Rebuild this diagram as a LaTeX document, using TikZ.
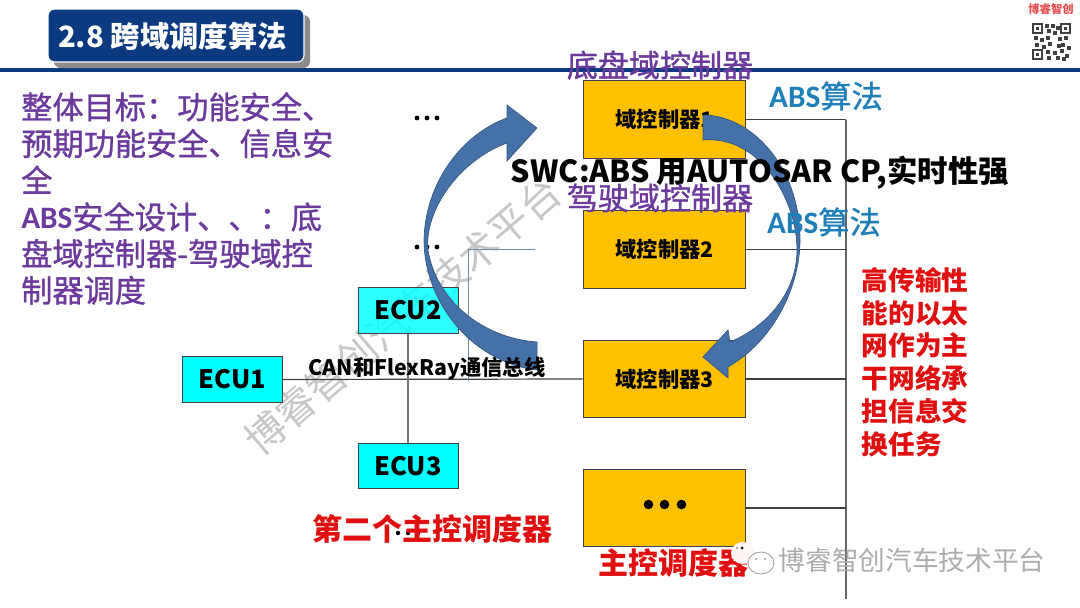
\documentclass[tikz,border=0pt]{standalone}
\usepackage{fontspec}
\setmainfont{Noto Sans CJK SC}
\newfontfamily\medf[FakeBold=1]{Noto Sans CJK SC}
\newfontfamily\latb{Carlito}
\definecolor{navy}{HTML}{0B3A80}
\definecolor{gold}{HTML}{FFC000}
\definecolor{cyanbox}{HTML}{00FFFF}
\definecolor{purp}{HTML}{6B3A9C}
\definecolor{absblue}{HTML}{1F7FB8}
\definecolor{redtxt}{HTML}{E01010}
\definecolor{arrowblue}{HTML}{4472A8}
\definecolor{linegray}{HTML}{404040}
\definecolor{thinblue}{HTML}{6F8CA8}
\newcommand{\fsz}[1]{\fontsize{#1}{#1}\selectfont}
\newcommand{\absword}{{\latb\bfseries ABS}}
\tikzset{
  ctrl/.style={draw=linegray,line width=0.9pt,fill=gold,minimum width=122pt,minimum height=58pt,inner sep=0pt,font=\fsz{16}\bfseries},
  ecubox/.style={draw=linegray,line width=0.7pt,fill=cyanbox,minimum width=75pt,minimum height=34pt,inner sep=0pt,font=\fsz{19}\bfseries},
  wire/.style={draw=linegray,line width=0.9pt},
  purplelab/.style={text=purp,font=\fsz{23.3}\medf,inner sep=0pt},
  abslab/.style={text=absblue,font=\fsz{23.4}\medf,inner sep=0pt},
  redlab/.style={text=redtxt,font=\fsz{22.5}\bfseries,inner sep=0pt},
  wm/.style={text=black!22,inner sep=0pt},
  bigarrow/.style={fill=arrowblue,draw=arrowblue!75!black,line width=0.5pt}
}
\begin{document}
\begin{tikzpicture}[x=0.75pt,y=-0.75pt]
\useasboundingbox (0,0) rectangle (1080,607);
\fill[white] (0,0) rectangle (1080,607);
% rule
\fill[navy] (0,68) rectangle (1080,71.5);
% title
\fill[black!45,rounded corners=5pt] (54,15) rectangle (310,68);
\draw[fill=navy,draw=white,line width=0.8pt,rounded corners=5pt] (48,9) rectangle (304,62);
\node[text=white,font=\fsz{22}\bfseries,inner sep=0pt] (title) at (172.5,36) {2.8 跨域调度算法};
% logo
\node[text=redtxt!75!white,font=\fsz{8.5}\bfseries,inner sep=0pt] (logo) at (1051,9) {博睿智创};
\fill[black!75] (1032,23) rectangle (1043,34);
\fill[white] (1034,25) rectangle (1041,32);
\fill[black!75] (1036,27) rectangle (1039,30);
\fill[black!75] (1060,23) rectangle (1071,34);
\fill[white] (1062,25) rectangle (1069,32);
\fill[black!75] (1064,27) rectangle (1067,30);
\fill[black!75] (1032,49) rectangle (1043,60);
\fill[white] (1034,51) rectangle (1041,58);
\fill[black!75] (1036,53) rectangle (1039,56);
\foreach \x/\y in {1045/24,1051/24,1056/26,1047/29,1053/31,1034/36,1040/38,1046/36,1058/37,1064/36,1035/43,1042/45,1061/43,1067/46,1046/50,1053/51,1060/49,1065/54,1047/56,1056/56,1062/57,1048/42,1057/44}
  \fill[black!75] (\x,\y) rectangle +(3.5,3.5);
% watermark
\node[wm,rotate=40.5,font=\fsz{30}] (wm1) at (402.5,316) {博睿智创汽车技术平台};
% wires
\coordinate (busTop) at (846,120);
\coordinate (busBot) at (846,599);
\draw[wire,line width=1.1pt,draw=black!60] (busTop) -- (busBot);
\node[ctrl] (d1) at (664.5,119.5) {域控制器1};
\node[ctrl] (d2) at (664.5,249.5) {域控制器2};
\node[ctrl] (d3) at (664.5,379) {域控制器3};
\node[ctrl] (d4) at (664.5,508) {};
\fill (648.5,504.5) circle (4.8) (664.5,504.5) circle (4.8) (681.5,504.5) circle (4.8);
\draw[wire] (d1.east) -- (d1.east -| busTop);
\draw[wire] (d2.east) -- (d2.east -| busTop);
\draw[wire] (d3.east) -- (d3.east -| busTop);
\draw[wire] (d4.east) -- (d4.east -| busTop);
\node[ecubox] (e1) at (232.5,379.5) {ECU1};
\node[ecubox,fill opacity=0.82,text opacity=1] (e2) at (408,310.5) {ECU2};
\node[ecubox] (e3) at (408,466) {ECU3};
\draw[wire] (e1.east) -- (d3.west);
\draw[wire,draw=black!55] (e2.south) -- (e3.north);
\coordinate (tA) at (535,249);
\coordinate (tB) at (468,249);
\coordinate (tC) at (468,381);
\draw[draw=thinblue,line width=0.7pt] (tA) -- (tB) -- (tC);
% dots
\foreach \x in {417,427,437}{\fill (\x,118) circle (2.4); \fill (\x,247) circle (2.4);}
\foreach \x in {398,408,418}{\fill (\x,533) circle (2.2);}
% left arrow
\path[bigarrow] (507,118) .. controls (460,135) and (425,185) .. (424,240)
  .. controls (424,300) and (470,362) .. (537,370) -- (537,342)
  .. controls (482,338) and (436,300) .. (428,250)
  .. controls (424,210) and (460,160) .. (507,143) -- (507,161) -- (537,128) -- (507,105) -- cycle;
% right arrow
\path[bigarrow] (703,115) .. controls (750,115) and (800,165) .. (800,240)
  .. controls (800,285) and (775,340) .. (728,367) -- (728,378) -- (703,357) -- (728,330) -- (730,342)
  .. controls (770,325) and (797,290) .. (797,250)
  .. controls (797,200) and (760,135) .. (703,140) -- cycle;
% labels
\node[font=\fsz{22.8}\bfseries,inner sep=0pt] (swc) at (760,173) {SWC:ABS 用AUTOSAR CP,实时性强};
\node[purplelab] (lab1) at (660,65) {底盘域控制器};
\node[purplelab] (lab2) at (660,198) {驾驶域控制器};
\node[abslab] (abs1) at (826,96) {\absword 算法};
\node[abslab] (abs2) at (824,222) {\absword 算法};
\node[font=\fsz{16}\bfseries,inner sep=0pt] (can) at (427,369) {CAN和FlexRay通信总线};
\node[redlab,align=left,font=\fontsize{20}{24.6}\selectfont\bfseries] (r1) at (915,362) {高传输性\\能的以太\\网作为主\\干网络承\\担信息交\\换任务};
\node[redlab] (r2) at (432,529) {第二个主控调度器};
\node[redlab] (r3) at (673,563) {主控调度器};
\node[text=purp,font=\fontsize{23.4}{27.5}\selectfont\medf,align=left,inner sep=0pt,anchor=north west] (goal) at (21,92) {整体目标：功能安全、\\预期功能安全、信息安\\全\\\absword 安全设计、、：底\\盘域控制器-驾驶域控\\制器调度};
% wechat mark
\node[text=black!32,font=\fsz{20},inner sep=0pt] (wm2) at (912,560) {博睿智创汽车技术平台};
\fill[red!4] (743,553) ellipse (12 and 11);
\fill (742,548) circle (1.5);
\fill[black!45] (737,548) circle (1.1);
\draw[black!35,line width=0.7pt,fill=white] (761,563) ellipse (13 and 11);
\fill[black!45] (756,559) circle (1) (765,559) circle (1);
\end{tikzpicture}
\end{document}
